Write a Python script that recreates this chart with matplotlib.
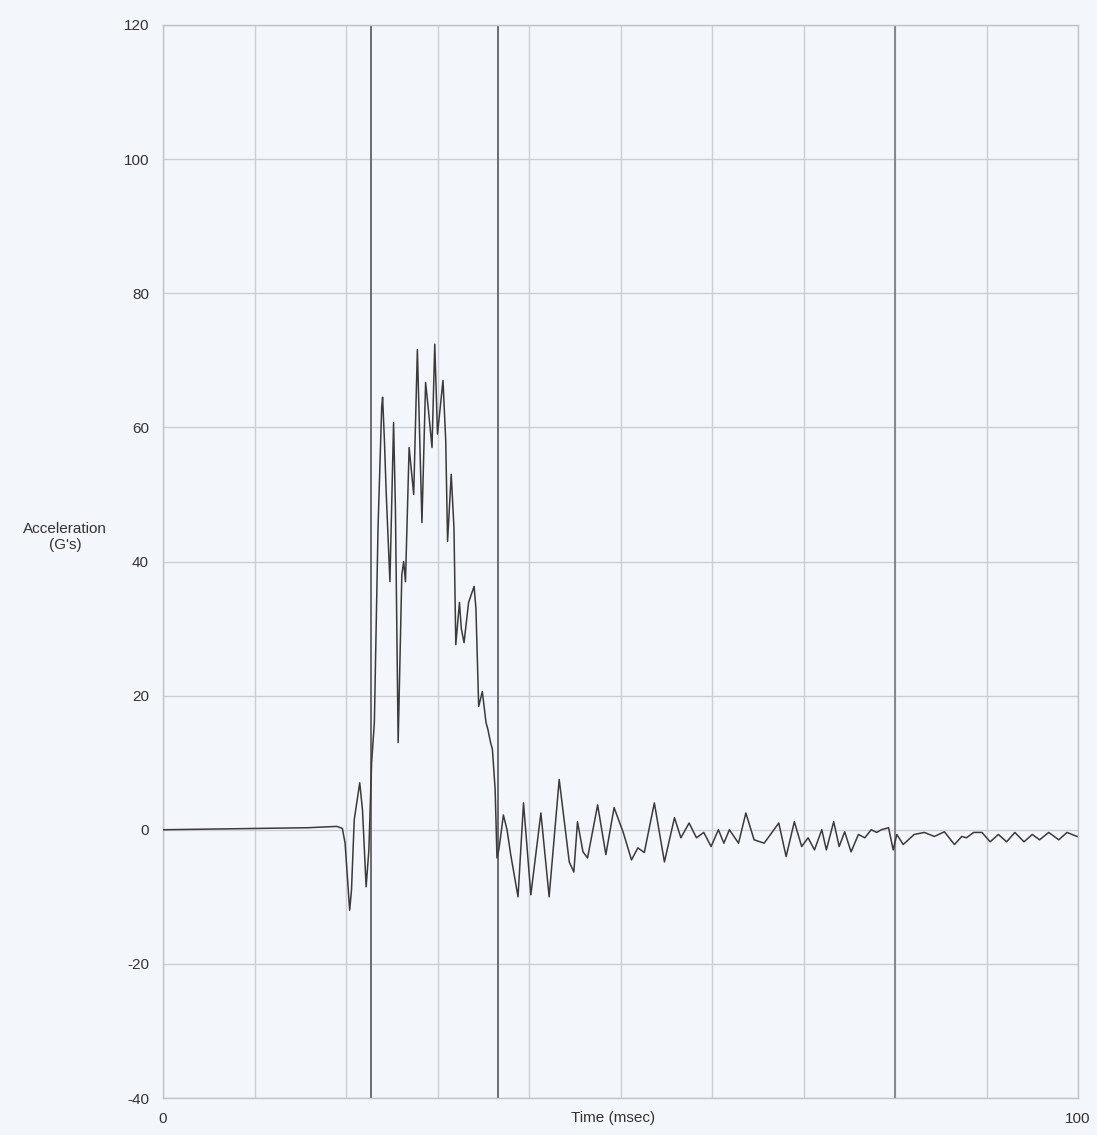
import matplotlib
matplotlib.use("Agg")
import matplotlib.pyplot as plt

plt.rcParams['font.family'] = ['Liberation Sans', 'DejaVu Sans']
plt.rcParams['axes.unicode_minus'] = False

time_ms = [0.0, 15.8, 19.0, 19.6, 19.9, 20.4, 20.6, 20.9, 21.5, 21.8, 22.2, 22.5, 22.8, 23.1,
           23.5, 23.9, 24.0, 24.2, 24.4, 24.8, 25.2, 25.4, 25.7, 26.1, 26.3, 26.5, 26.9, 27.4,
           27.8, 28.3, 28.7, 29.0, 29.4, 29.7, 30.0, 30.6, 30.9, 31.1, 31.5, 31.8, 32.0, 32.4,
           32.6, 32.9, 33.4, 34.0, 34.2, 34.5, 34.9, 35.3, 35.5, 35.8, 36.0, 36.3, 36.5, 36.7,
           36.9, 37.2, 37.6, 38.0, 38.8, 39.4, 40.2, 41.3, 42.2, 43.3, 44.4, 44.9, 45.3, 45.9,
           46.4, 47.5, 48.4, 49.3, 50.3, 51.2, 51.9, 52.6, 53.7, 54.8, 55.9, 56.6, 57.5, 58.3,
           59.1, 59.9, 60.7, 61.3, 61.9, 62.9, 63.7, 64.6, 65.7, 67.3, 68.1, 69.0, 69.8, 70.5,
           71.2, 72.0, 72.5, 73.3, 73.9, 74.5, 75.2, 76.0, 76.7, 77.4, 78.0, 78.5, 79.3, 79.8,
           80.2, 80.9, 82.1, 83.2, 84.3, 85.4, 86.5, 87.3, 87.8, 88.6, 89.5, 90.4, 91.3, 92.2,
           93.1, 94.1, 95.0, 95.8, 96.8, 97.9, 98.8, 99.9]
accel_g = [0.0, 0.3, 0.5, 0.2, -2.0, -12.0, -9.0, 1.5, 7.0, 3.0, -8.5, -3.0, 10.0, 16.0,
           45.0, 63.0, 64.5, 58.0, 50.0, 37.0, 60.7, 48.0, 13.0, 38.0, 40.0, 37.0, 57.0, 50.0,
           71.6, 45.8, 66.7, 62.7, 57.0, 72.4, 59.0, 67.0, 58.0, 43.0, 53.0, 45.0, 27.6, 33.9,
           30.0, 27.9, 33.9, 36.3, 33.0, 18.4, 20.6, 16.0, 15.0, 13.0, 12.0, 6.0, -4.2, -3.0,
           -1.0, 2.2, 0.0, -3.7, -10.0, 4.0, -9.7, 2.5, -10.0, 7.5, -4.8, -6.3, 1.2, -3.3,
           -4.2, 3.7, -3.7, 3.3, -0.4, -4.5, -2.7, -3.4, 4.0, -4.8, 1.8, -1.2, 1.0, -1.2,
           -0.4, -2.5, 0.0, -2.0, 0.0, -2.0, 2.5, -1.5, -2.0, 1.0, -4.0, 1.2, -2.5, -1.2,
           -3.0, 0.0, -3.0, 1.2, -2.5, -0.3, -3.3, -0.7, -1.2, 0.0, -0.4, 0.0, 0.3, -3.0,
           -0.7, -2.2, -0.7, -0.4, -1.0, -0.3, -2.2, -1.0, -1.2, -0.4, -0.4, -1.8, -0.7, -1.8,
           -0.4, -1.8, -0.7, -1.5, -0.4, -1.5, -0.4, -1.0]

marker_times = [22.7, 36.6, 80.0]
marker_colors = ['#6a6c70', '#6a6c70', '#85878c']
y_ticks = [-40, -20, 0, 20, 40, 60, 80, 100, 120]
x_grid = [0, 10, 20, 30, 40, 50, 60, 70, 80, 90, 100]
x_tick_labels = ['0', '', '', '', '', '', '', '', '', '', '100']

bg = '#f3f6fb'
fig = plt.figure(figsize=(10.97, 11.35), dpi=100, facecolor=bg)
ax = fig.add_axes([163/1097, 1-1098/1135, (1078-163)/1097, (1098-25)/1135])
ax.set_facecolor(bg)

ax.set_xlim(0, 100)
ax.set_ylim(-40, 120)
ax.set_xticks(x_grid)
ax.set_xticklabels(x_tick_labels)
ax.set_yticks(y_ticks)
ax.grid(True, color='#cbced4', linewidth=1.0)
ax.tick_params(length=0, labelsize=11, colors='#333333', pad=10)
for s in ax.spines.values():
    s.set_color('#c0c3c8')
    s.set_linewidth(1.0)

for t, c in zip(marker_times, marker_colors):
    ax.axvline(t, color=c, linewidth=1.4, zorder=2)

ax.plot(time_ms, accel_g, color='#3a3a3a', linewidth=1.1, zorder=3)

fig.text(613/1097, 1-1118/1135, 'Time (msec)', ha='center', va='center',
         fontsize=11, color='#333333')
fig.text(65/1097, 1-537/1135, "Acceleration\n(G's)", ha='center', va='center',
         fontsize=11, color='#333333', multialignment='center')

fig.savefig('out.png', dpi=100, facecolor=bg)
